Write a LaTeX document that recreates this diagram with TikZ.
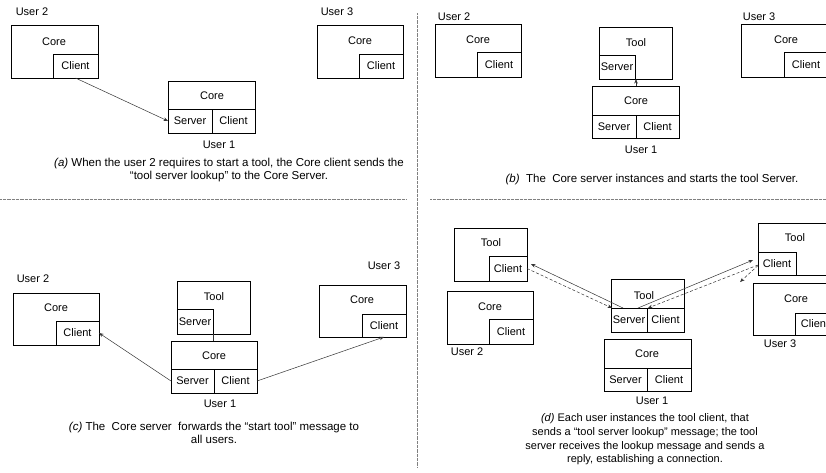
\documentclass[tikz,border=0pt]{standalone}
\usepackage{fontspec}
\setmainfont{Liberation Sans}
\usetikzlibrary{arrows.meta}
\begin{document}
\begin{tikzpicture}[x=1pt,y=-1pt,
  every node/.style={font=\fontsize{11}{13}\selectfont, inner sep=0pt, outer sep=0pt},
  rbox/.style={draw=black, line width=0.7pt, anchor=north west},
  conn/.style={draw=black!80, line width=0.5pt, -{Stealth[length=4.5pt,width=3.5pt]}},
  dconn/.style={conn, dash pattern=on 3pt off 2pt},
  plainline/.style={draw=black!80, line width=0.6pt},
  sepline/.style={draw=black!50, line width=0.6pt, dash pattern=on 0.6pt off 0.7pt},
  captext/.style={align=center, font=\fontsize{11.5}{13}\selectfont}
]
\useasboundingbox (0,0) rectangle (826,472);
\clip (0,0) rectangle (826,472);
\fill[white] (0,0) rectangle (826,472);

% separators
\draw[sepline] (0,199) -- (406,199);
\draw[sepline] (430,199) -- (826,199);
\draw[sepline] (417,13) -- (417,467);

% ---------------- panel (a)
\node[rbox, minimum width=87pt, minimum height=53pt] (a2core) at (11,25) {};
\node[rbox, minimum width=45pt, minimum height=24pt] (a2cli) at (53,54) {Client};
\node (a2lbl) at (54,42) {Core};
\node (a2user) at (32,12) {User 2};

\node[rbox, minimum width=86pt, minimum height=53pt] (a3core) at (317,25) {};
\node[rbox, minimum width=44pt, minimum height=24pt] (a3cli) at (359,54) {Client};
\node (a3lbl) at (360,41) {Core};
\node (a3user) at (337,12) {User 3};

\node[rbox, minimum width=87pt, minimum height=52pt] (a1core) at (168,81) {};
\node[rbox, minimum width=44pt, minimum height=24pt] (a1srv) at (168,109) {Server};
\node[rbox, minimum width=43pt, minimum height=24pt] (a1cli) at (212,109) {Client};
\node (a1lbl) at (212,96) {Core};
\node (a1user) at (219,145) {User 1};

\draw[conn] (a2cli.south) -- (a1srv.west);

\node[captext] (capa) at (229,170.5) {\textit{(a)} When the user 2 requires to start a tool, the Core client sends the\\“tool server lookup” to the Core Server.};

% ---------------- panel (b)
\node[rbox, minimum width=86pt, minimum height=53pt] (b2core) at (435,24) {};
\node[rbox, minimum width=44pt, minimum height=25pt] (b2cli) at (477,52) {Client};
\node (b2lbl) at (478,40) {Core};
\node (b2user) at (454,17) {User 2};

\node[rbox, minimum width=73pt, minimum height=52pt] (btool) at (599,27) {};
\node[rbox, minimum width=36pt, minimum height=24pt] (btsrv) at (599,55) {Server};
\node (btlbl) at (636,43) {Tool};

\node[rbox, minimum width=87pt, minimum height=52pt] (b1core) at (592,86) {};
\node[rbox, minimum width=44pt, minimum height=23pt] (b1srv) at (592,115) {Server};
\node[rbox, minimum width=43pt, minimum height=23pt] (b1cli) at (636,115) {Client};
\node (b1lbl) at (636,101) {Core};
\node (b1user) at (641,150) {User 1};

\draw[conn] (b1srv.north east |- b1core.north) -- (b1srv.north east |- btsrv.south);

\node[rbox, minimum width=87pt, minimum height=53pt] (b3core) at (741,24) {};
\node[rbox, minimum width=44pt, minimum height=25pt] (b3cli) at (784,52) {Client};
\node (b3lbl) at (786,40) {Core};
\node (b3user) at (759,17) {User 3};

\node[captext] (capb) at (652,180) {\textit{(b)}~ The~ Core server instances and starts the tool Server.};

% ---------------- panel (c)
\node[rbox, minimum width=86pt, minimum height=52pt] (c2core) at (13,293) {};
\node[rbox, minimum width=43pt, minimum height=24pt] (c2cli) at (56,321) {Client};
\node (c2lbl) at (56,308) {Core};
\node (c2user) at (33,279) {User 2};

\node[rbox, minimum width=73pt, minimum height=53pt] (ctool) at (177,281) {};
\node[rbox, minimum width=36pt, minimum height=25pt] (ctsrv) at (177,309) {Server};
\node (ctlbl) at (214,297) {Tool};

\node[rbox, minimum width=86pt, minimum height=52pt] (c1core) at (171,341) {};
\node[rbox, minimum width=43pt, minimum height=24pt] (c1srv) at (171,369) {Server};
\node[rbox, minimum width=43pt, minimum height=24pt] (c1cli) at (214,369) {Client};
\node (c1lbl) at (214,356) {Core};
\node (c1user) at (220,404) {User 1};

\draw[plainline] (ctsrv.south east) -- (ctsrv.south east |- c1core.north);

\node[rbox, minimum width=87pt, minimum height=52pt] (c3core) at (319,285) {};
\node[rbox, minimum width=44pt, minimum height=23pt] (c3cli) at (362,314) {Client};
\node (c3lbl) at (362,300) {Core};
\node (c3user) at (384,266) {User 3};

\draw[conn] (c1srv.west) -- (c2cli.east);
\draw[conn] (c1cli.east) -- (c3cli.south);

\node[captext] (capc) at (214,432.5) {\textit{(c)} The~ Core server~ forwards the “start tool” message to\\all users.};

% ---------------- panel (d)
\node[rbox, minimum width=73pt, minimum height=53pt] (d2tool) at (454,228) {};
\node[rbox, minimum width=38pt, minimum height=25pt] (d2tcli) at (489,256) {Client};
\node (d2tlbl) at (491,243) {Tool};

\node[rbox, minimum width=86pt, minimum height=53pt] (d2core) at (447,291) {};
\node[rbox, minimum width=44pt, minimum height=25pt] (d2cli) at (489,319) {Client};
\node (d2lbl) at (490,307) {Core};
\node (d2user) at (467,352) {User 2};

\node[rbox, minimum width=73pt, minimum height=53pt] (dtool) at (611,279) {};
\node[rbox, minimum width=36pt, minimum height=24pt] (dtsrv) at (611,308) {Server};
\node[rbox, minimum width=37pt, minimum height=24pt] (dtcli) at (647,308) {Client};
\node (dtlbl) at (644,296) {Tool};

\node[rbox, minimum width=87pt, minimum height=52pt] (d1core) at (604,339) {};
\node[rbox, minimum width=43pt, minimum height=23pt] (d1srv) at (604,368) {Server};
\node[rbox, minimum width=44pt, minimum height=23pt] (d1cli) at (647,368) {Client};
\node (d1lbl) at (647,354) {Core};
\node (d1user) at (652,401) {User 1};

\node[rbox, minimum width=80pt, minimum height=52pt] (d3tool) at (758,223) {};
\node[rbox, minimum width=38pt, minimum height=23pt] (d3tcli) at (758,252) {Client};
\node (d3tlbl) at (795,238) {Tool};

\node[rbox, minimum width=87pt, minimum height=52pt] (d3core) at (753,283) {};
\node[rbox, minimum width=40pt, minimum height=22pt] (d3cli) at (795,313) {Client};
\node (d3lbl) at (796,299) {Core};
\node (d3user) at (780,344) {User 3};

\draw[conn] ([xshift=12pt]dtsrv.north west) -- ([xshift=4pt,yshift=4.5pt]d2tcli.east);
\draw[dconn] (d2tcli.east) -- ([xshift=1pt]dtsrv.north west);
\draw[conn] ([xshift=27pt]dtsrv.north west) -- ([xshift=-5pt,yshift=3.5pt]d3tcli.west);
\draw[dconn] ([yshift=-1.5pt]d3tcli.west) -- ([xshift=1pt]dtcli.north west);
\draw[dconn] ([yshift=-2pt]d3tcli.west) -- ([xshift=-18pt,yshift=-18.5pt]d3tcli.west);

\node[captext, font=\fontsize{11}{13.7}\selectfont] (capd) at (645,439.5) {\textit{(d)} Each user instances the tool client, that\\sends a “tool server lookup” message; the tool\\server receives the lookup message and sends a\\reply, establishing a connection.};
\end{tikzpicture}
\end{document}
